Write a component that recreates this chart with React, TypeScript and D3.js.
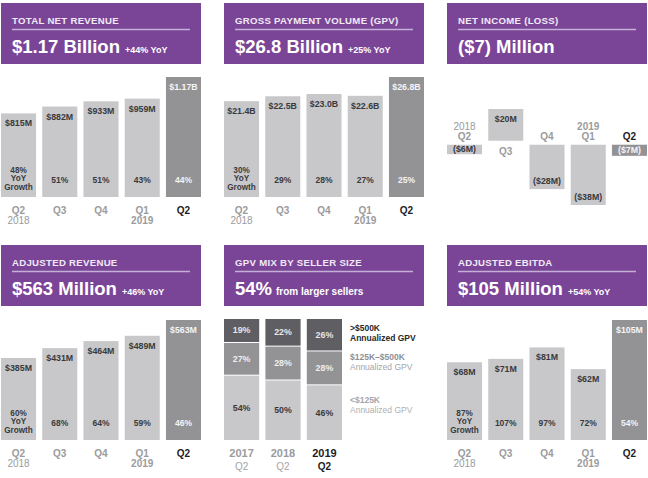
import React from "react";
import * as d3 from "d3";

const quarters = ["Q2", "Q3", "Q4", "Q1", "Q2"];
const quarterYears = ["2018", "", "", "2019", ""];

const netRevenue = [815, 882, 933, 959, 1170];
const netRevenueGrowth = [48, 51, 51, 43, 44];

const gpv = [21.4, 22.5, 23.0, 22.6, 26.8];
const gpvGrowth = [30, 29, 28, 27, 25];

const netIncome = [-6, 20, -28, -38, -7];

const adjRevenue = [385, 431, 464, 489, 563];
const adjRevenueGrowth = [60, 68, 64, 59, 46];

const ebitda = [68, 71, 81, 62, 105];
const ebitdaGrowth = [87, 107, 97, 72, 54];

const mixYears = ["2017", "2018", "2019"];
const mixQuarter = ["Q2", "Q2", "Q2"];
const mixSmall = [54, 50, 46];
const mixMid = [27, 28, 28];
const mixLarge = [19, 22, 26];

const FONT = "'Liberation Sans', Arial, Helvetica, sans-serif";
const PURPLE = "#7b4597";
const LIGHT = "#c8c8ca";
const DARK = "#939396";
const DARKEST = "#5f5f63";
const AXIS = "#9b9b9d";
const TEXT = "#3a3a3c";

function Header({ x, y, title, big, suffix }: { x: number; y: number; title: string; big: string; suffix?: string }) {
  return (
    <g>
      <rect x={x} y={y} width={200} height={61} fill={PURPLE} />
      <text x={x + 11} y={y + 21} fontSize={9.6} fontWeight={700} fill="#f1eaf6" letterSpacing={0.3}>
        {title}
      </text>
      <line x1={x + 11} x2={x + 189} y1={y + 26.5} y2={y + 26.5} stroke="#c4afd6" strokeWidth={1.3} />
      <text x={x + 11} y={y + 50} fill="#ffffff" fontWeight={700}>
        <tspan fontSize={18.5}>{big}</tspan>
        {suffix ? (
          <tspan fontSize={9} dx={5}>
            {suffix}
          </tspan>
        ) : null}
      </text>
    </g>
  );
}

function QuarterAxis({ xs, bw, base }: { xs: (i: number) => number; bw: number; base: number }) {
  return (
    <g>
      {quarters.map((q, i) => {
        const cx = xs(i) + bw / 2;
        const last = i === quarters.length - 1;
        return (
          <g key={i}>
            <text x={cx} y={base + 16.5} textAnchor="middle" fontSize={10} fontWeight={700} fill={last ? "#1d1d1f" : AXIS}>
              {q}
            </text>
            {quarterYears[i] ? (
              <text
                x={cx}
                y={base + 27}
                textAnchor="middle"
                fontSize={10}
                fontWeight={quarterYears[i] === "2019" ? 700 : 400}
                fill={AXIS}
              >
                {quarterYears[i]}
              </text>
            ) : null}
          </g>
        );
      })}
    </g>
  );
}

function BarPanel({
  x0,
  base,
  values,
  growth,
  fmt,
}: {
  x0: number;
  base: number;
  values: number[];
  growth: number[];
  fmt: (v: number) => string;
}) {
  const xScale = d3
    .scaleBand<number>()
    .domain(values.map((_, i) => i))
    .range([x0, x0 + 200])
    .paddingInner(0.15)
    .paddingOuter(0);
  const yScale = d3
    .scaleLinear()
    .domain([0, d3.max(values) as number])
    .range([base, base - 120]);
  const bw = xScale.bandwidth();
  return (
    <g>
      {values.map((v, i) => {
        const last = i === values.length - 1;
        const x = xScale(i) as number;
        const top = yScale(v);
        const cx = x + bw / 2;
        const tc = last ? "#f4f4f5" : TEXT;
        return (
          <g key={i}>
            <rect x={x} y={top} width={bw} height={base - top} fill={last ? DARK : LIGHT} />
            <text x={cx} y={top + 13} textAnchor="middle" fontSize={8.8} fontWeight={700} fill={tc}>
              {fmt(v)}
            </text>
            {i === 0 ? (
              <text textAnchor="middle" fontSize={8.2} fontWeight={600} fill={tc}>
                <tspan x={cx} y={base - 24.5}>{growth[i] + "%"}</tspan>
                <tspan x={cx} y={base - 15.7}>YoY</tspan>
                <tspan x={cx} y={base - 6.9}>Growth</tspan>
              </text>
            ) : (
              <text x={cx} y={base - 14} textAnchor="middle" fontSize={8.5} fontWeight={600} fill={tc}>
                {growth[i] + "%"}
              </text>
            )}
          </g>
        );
      })}
      <QuarterAxis xs={(i) => xScale(i) as number} bw={bw} base={base} />
    </g>
  );
}

function NetIncomePanel({ x0 }: { x0: number }) {
  const xScale = d3
    .scaleBand<number>()
    .domain(netIncome.map((_, i) => i))
    .range([x0, x0 + 200])
    .paddingInner(0.15)
    .paddingOuter(0);
  const yScale = d3
    .scaleLinear()
    .domain([d3.min(netIncome) as number, d3.max(netIncome) as number])
    .range([203, 111]);
  const bw = xScale.bandwidth();
  const zero = yScale(0);
  const gap = 2;
  const fmt = (v: number) => (v < 0 ? `($${-v}M)` : `$${v}M`);
  return (
    <g>
      {netIncome.map((v, i) => {
        const last = i === netIncome.length - 1;
        const x = xScale(i) as number;
        const cx = x + bw / 2;
        const y1 = v >= 0 ? yScale(v) - gap : zero + gap;
        const y2 = v >= 0 ? zero - gap : yScale(v) + gap;
        const h = y2 - y1;
        let ly: number;
        if (h < 16) ly = (y1 + y2) / 2 + 3;
        else if (v >= 0) ly = y1 + 13;
        else ly = y2 - 5;
        const tc = last ? "#f4f4f5" : TEXT;
        const qy = v >= 0 ? zero + 12 : zero - 3;
        return (
          <g key={i}>
            <rect x={x} y={y1} width={bw} height={h} fill={last ? DARK : LIGHT} />
            <text x={cx} y={ly} textAnchor="middle" fontSize={8.8} fontWeight={700} fill={tc}>
              {fmt(v)}
            </text>
            <text x={cx} y={qy} textAnchor="middle" fontSize={10} fontWeight={700} fill={last ? "#1d1d1f" : AXIS}>
              {quarters[i]}
            </text>
            {quarterYears[i] ? (
              <text
                x={cx}
                y={qy - 10}
                textAnchor="middle"
                fontSize={10}
                fontWeight={quarterYears[i] === "2019" ? 700 : 400}
                fill={AXIS}
              >
                {quarterYears[i]}
              </text>
            ) : null}
          </g>
        );
      })}
    </g>
  );
}

function MixPanel({ x0, base }: { x0: number; base: number }) {
  const xScale = d3
    .scaleBand<number>()
    .domain(mixYears.map((_, i) => i))
    .range([x0, x0 + 118])
    .paddingInner(0.15)
    .paddingOuter(0);
  const yScale = d3.scaleLinear().domain([0, 100]).range([base, base - 121]);
  const bw = xScale.bandwidth();
  const series = [
    { vals: mixSmall, fill: LIGHT, tc: TEXT },
    { vals: mixMid, fill: DARK, tc: "#eeeeef" },
    { vals: mixLarge, fill: DARKEST, tc: "#e6e6e8" },
  ];
  const legend = [
    { l1: ">$500K", l2: "Annualized GPV", c1: "#2a2a2c", c2: "#2a2a2c", y: 331 },
    { l1: "$125K\u2013$500K", l2: "Annualized GPV", c1: "#8f8f92", c2: "#a5a5a8", y: 360 },
    { l1: "<$125K", l2: "Annualized GPV", c1: "#a5a5a8", c2: "#b0b0b3", y: 403 },
  ];
  return (
    <g>
      {mixYears.map((yr, i) => {
        const x = xScale(i) as number;
        const cx = x + bw / 2;
        const last = i === mixYears.length - 1;
        let cum = 0;
        return (
          <g key={yr}>
            {series.map((s, k) => {
              const v = s.vals[i];
              const yb = yScale(cum);
              const yt = yScale(cum + v);
              cum += v;
              const top = k === series.length - 1 ? yt : yt + 1;
              return (
                <g key={k}>
                  <rect x={x} y={top} width={bw} height={yb - top} fill={s.fill} />
                  <text
                    x={cx}
                    y={(top + yb) / 2 + 3}
                    textAnchor="middle"
                    fontSize={8.8}
                    fontWeight={last ? 700 : 600}
                    fill={s.tc}
                  >
                    {v + "%"}
                  </text>
                </g>
              );
            })}
            <text x={cx} y={base + 17} textAnchor="middle" fontSize={11} fontWeight={700} fill={last ? "#1d1d1f" : AXIS}>
              {yr}
            </text>
            <text
              x={cx}
              y={base + 30}
              textAnchor="middle"
              fontSize={10}
              fontWeight={last ? 700 : 400}
              fill={last ? "#1d1d1f" : "#a5a5a8"}
            >
              {mixQuarter[i]}
            </text>
          </g>
        );
      })}
      {legend.map((l, i) => (
        <g key={i}>
          <text x={x0 + 126} y={l.y} fontSize={8.5} fontWeight={700} fill={l.c1}>
            {l.l1}
          </text>
          <text x={x0 + 126} y={l.y + 9.5} fontSize={8.5} fontWeight={i === 0 ? 700 : 400} fill={l.c2}>
            {l.l2}
          </text>
        </g>
      ))}
    </g>
  );
}

export default function App() {
  const fmtRev = (v: number) => (v >= 1000 ? `$${(v / 1000).toFixed(2)}B` : `$${v}M`);
  const fmtB = (v: number) => `$${v.toFixed(1)}B`;
  const fmtM = (v: number) => `$${v}M`;
  return (
    <svg
      width={648}
      height={478}
      style={{ position: "absolute", left: 0, top: 0, background: "#ffffff" }}
      fontFamily={FONT}
    >
      <rect width={648} height={478} fill="#ffffff" />
      <Header x={1} y={3} title="TOTAL NET REVENUE" big="$1.17 Billion" suffix="+44% YoY" />
      <Header x={224} y={3} title="GROSS PAYMENT VOLUME (GPV)" big="$26.8 Billion" suffix="+25% YoY" />
      <Header x={447} y={3} title="NET INCOME (LOSS)" big="($7) Million" />
      <Header x={1} y={245} title="ADJUSTED REVENUE" big="$563 Million" suffix="+46% YoY" />
      <Header x={224} y={245} title="GPV MIX BY SELLER SIZE" big="" />
      <text x={235} y={295} fill="#ffffff" fontWeight={700}>
        <tspan fontSize={18.5}>54%</tspan>
        <tspan fontSize={10} dx={4}>from larger sellers</tspan>
      </text>
      <Header x={447} y={245} title="ADJUSTED EBITDA" big="$105 Million" suffix="+54% YoY" />

      <BarPanel x0={1} base={197} values={netRevenue} growth={netRevenueGrowth} fmt={fmtRev} />
      <BarPanel x0={224} base={197} values={gpv} growth={gpvGrowth} fmt={fmtB} />
      <NetIncomePanel x0={447} />
      <BarPanel x0={1} base={440} values={adjRevenue} growth={adjRevenueGrowth} fmt={fmtM} />
      <MixPanel x0={224} base={440} />
      <BarPanel x0={447} base={440} values={ebitda} growth={ebitdaGrowth} fmt={fmtM} />
    </svg>
  );
}
